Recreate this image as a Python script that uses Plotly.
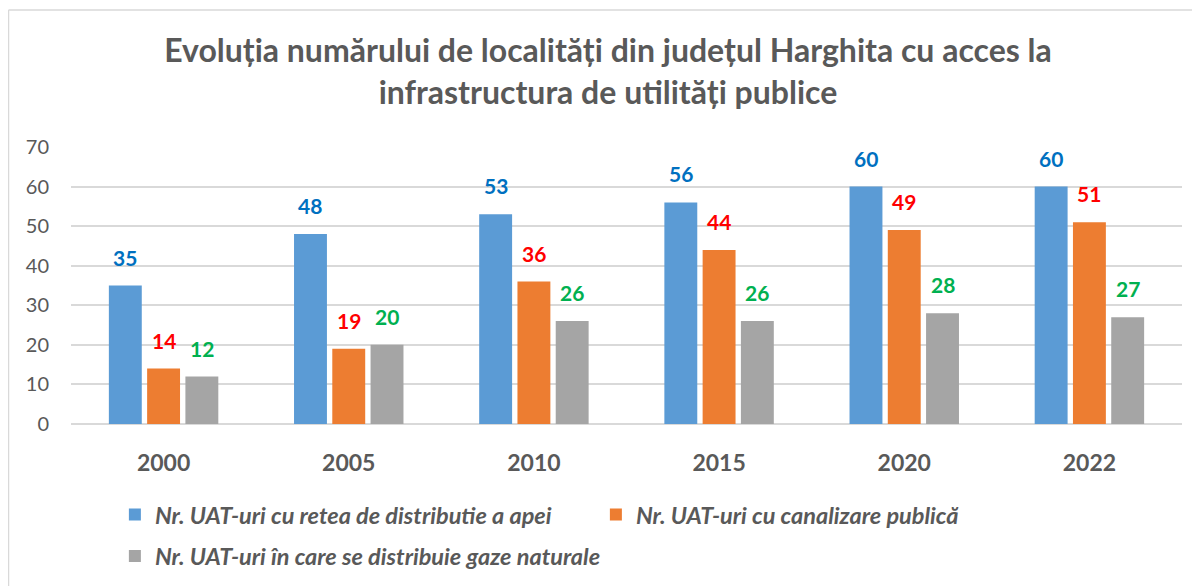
import plotly.graph_objects as go

years = ["2000", "2005", "2010", "2015", "2020", "2022"]
apa = [35, 48, 53, 56, 60, 60]
canalizare = [14, 19, 36, 44, 49, 51]
gaze = [12, 20, 26, 26, 28, 27]

names = [
    "Nr. UAT-uri cu retea de distributie a apei",
    "Nr. UAT-uri cu canalizare publică",
    "Nr. UAT-uri în care se distribuie gaze naturale",
]
bar_colors = ["#5B9BD5", "#ED7D31", "#A5A5A5"]
label_colors = ["#0070C0", "#FF0000", "#00B050"]
series = [apa, canalizare, gaze]
legends = ["legend", "legend", "legend2"]

FONT = "Lato"
W, H = 1200, 586
ML, MR, MT, MB = 63, 26, 139, 170
BARGAP = 0.38
BARGROUPGAP = 0.14

fig = go.Figure()
for name, vals, bc, lg in zip(names, series, bar_colors, legends):
    fig.add_trace(go.Bar(
        x=years, y=vals, name=name,
        marker=dict(color=bc, line=dict(width=0)),
        legend=lg,
    ))

# data labels above each bar (position derived from the group layout)
plot_w = W - ML - MR
plot_h = H - MT - MB
cat_w = plot_w / len(years)
slot = cat_w * (1 - BARGAP) / len(series)
for i, (vals, lc) in enumerate(zip(series, label_colors)):
    for j, v in enumerate(vals):
        fig.add_annotation(
            x=j, y=v, xref="x", yref="y",
            text=f"<b>{v}</b>", showarrow=False,
            xshift=(i - (len(series) - 1) / 2) * slot,
            yanchor="bottom", yshift=14,
            font=dict(family=FONT, size=21, color=lc),
        )

leg_font = dict(family=FONT, size=23.5, color="#595959", style="italic", weight="bold")
fig.update_layout(
    width=W, height=H,
    paper_bgcolor="white", plot_bgcolor="white",
    margin=dict(l=ML, r=MR, t=MT, b=MB, autoexpand=False),
    title=dict(
        text="<b>Evoluția numărului de localități din județul Harghita cu acces la<br>infrastructura de utilități publice</b>",
        x=0.5, xanchor="center", y=0.908, yanchor="middle",
        font=dict(family=FONT, size=32, color="#595959"),
    ),
    barmode="group", bargap=BARGAP, bargroupgap=BARGROUPGAP,
    legend=dict(
        orientation="h", x=0.0395, xanchor="left", y=-0.248, yanchor="top",
        font=leg_font, entrywidth=436, entrywidthmode="pixels",
        itemwidth=30,
    ),
    legend2=dict(
        orientation="h", x=0.0395, xanchor="left", y=-0.398, yanchor="top",
        font=leg_font, itemwidth=30,
    ),
    showlegend=True,
    font=dict(family=FONT, color="#595959"),
)
fig.update_yaxes(
    range=[0, 70], dtick=10, showgrid=True, gridcolor="#D9D9D9", gridwidth=1.5,
    zeroline=True, zerolinecolor="#D9D9D9", zerolinewidth=1.5,
    tickfont=dict(family=FONT, size=20, color="#595959"),
    ticklabelstandoff=21, showline=False,
)
fig.update_xaxes(
    type="category", categoryorder="array", categoryarray=years,
    range=[-0.5, len(years) - 0.5],
    tickfont=dict(family=FONT, size=23, color="#595959", weight="bold"),
    ticks="outside", ticklen=18, tickcolor="rgba(0,0,0,0)",
    showline=False,
)
# chart-area border (top and left edges visible in the reference)
bx = (0.5 - ML) / plot_w
by = (H - MB - 2) / plot_h
fig.add_shape(type="line", xref="paper", yref="paper", x0=bx, x1=1.05, y0=by, y1=by,
              line=dict(color="#D9D9D9", width=1.5))
fig.add_shape(type="line", xref="paper", yref="paper", x0=bx, x1=bx, y0=by, y1=-0.7,
              line=dict(color="#D9D9D9", width=1.5))

fig.write_html("out.html")
